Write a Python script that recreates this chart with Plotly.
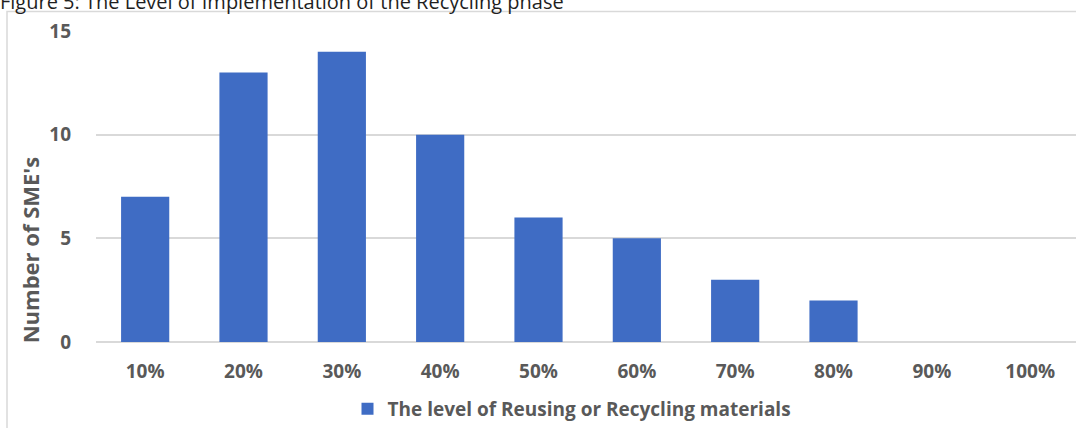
import plotly.graph_objects as go

categories = ["10%", "20%", "30%", "40%", "50%", "60%", "70%", "80%", "90%", "100%"]
values = [7, 13, 14, 10, 6, 5, 3, 2, 0, 0]
series_name = "The level of Reusing or Recycling materials"
y_ticks = [0, 5, 10, 15]
title_text = "Figure 5: The Level of Implementation of the Recycling phase"
y_title = "Number of SME's"

W, H = 1076, 428
L, R, T, B = 96, 0, 31, 85
pw = W - L - R
ph = H - T - B

def px_x(p):
    return (p - L) / pw

def px_y(p):
    return (H - B - p) / ph

GRAY = "#595959"
FONT = "Open Sans"

fig = go.Figure()
fig.add_trace(go.Bar(
    x=list(range(len(categories))),
    y=values,
    name=series_name,
    marker=dict(color="#3f6cc4", line=dict(width=0)),
    showlegend=True,
))

fig.update_layout(
    width=W, height=H,
    margin=dict(l=L, r=R, t=T, b=B, pad=0),
    paper_bgcolor="white", plot_bgcolor="white",
    bargap=0.51,
    font=dict(family=FONT, color=GRAY),
    title=dict(text=title_text, x=0, xanchor="left", xref="container",
               y=1 - 1.5 / H, yanchor="middle", yref="container",
               font=dict(family=FONT, size=20, color="#1f1f1f")),
    xaxis=dict(
        range=[-0.5, 9.466],
        tickmode="array",
        tickvals=list(range(len(categories))),
        ticktext=categories,
        showgrid=False, zeroline=False, showline=False,
        ticks="", ticklabelstandoff=16,
        tickfont=dict(family=FONT, size=19, color=GRAY, weight="bold"),
    ),
    yaxis=dict(
        range=[0, 15],
        tickmode="array",
        tickvals=y_ticks,
        showgrid=True, gridcolor="#d9d9d9", gridwidth=1.5,
        zeroline=True, zerolinecolor="#d9d9d9", zerolinewidth=1.5,
        showline=False, ticks="", ticklabelstandoff=24,
        tickfont=dict(family=FONT, size=19, color=GRAY, weight="bold"),
    ),
    legend=dict(
        orientation="h", x=px_x(572), xanchor="center",
        y=px_y(410), yanchor="middle",
        font=dict(family=FONT, size=19, color=GRAY, weight="bold"),
        itemwidth=30,
    ),
    shapes=[dict(type="rect", xref="paper", yref="paper",
                 x0=px_x(7), x1=px_x(1090), y0=px_y(440), y1=px_y(11.5),
                 line=dict(color="#d9d9d9", width=1.5), layer="below")],
    annotations=[dict(text=y_title, textangle=-90, xref="paper", yref="paper",
                      x=px_x(30), y=px_y(251), xanchor="center", yanchor="middle",
                      showarrow=False,
                      font=dict(family=FONT, size=22, color=GRAY, weight="bold"))],
)

fig.write_html("out.html")
